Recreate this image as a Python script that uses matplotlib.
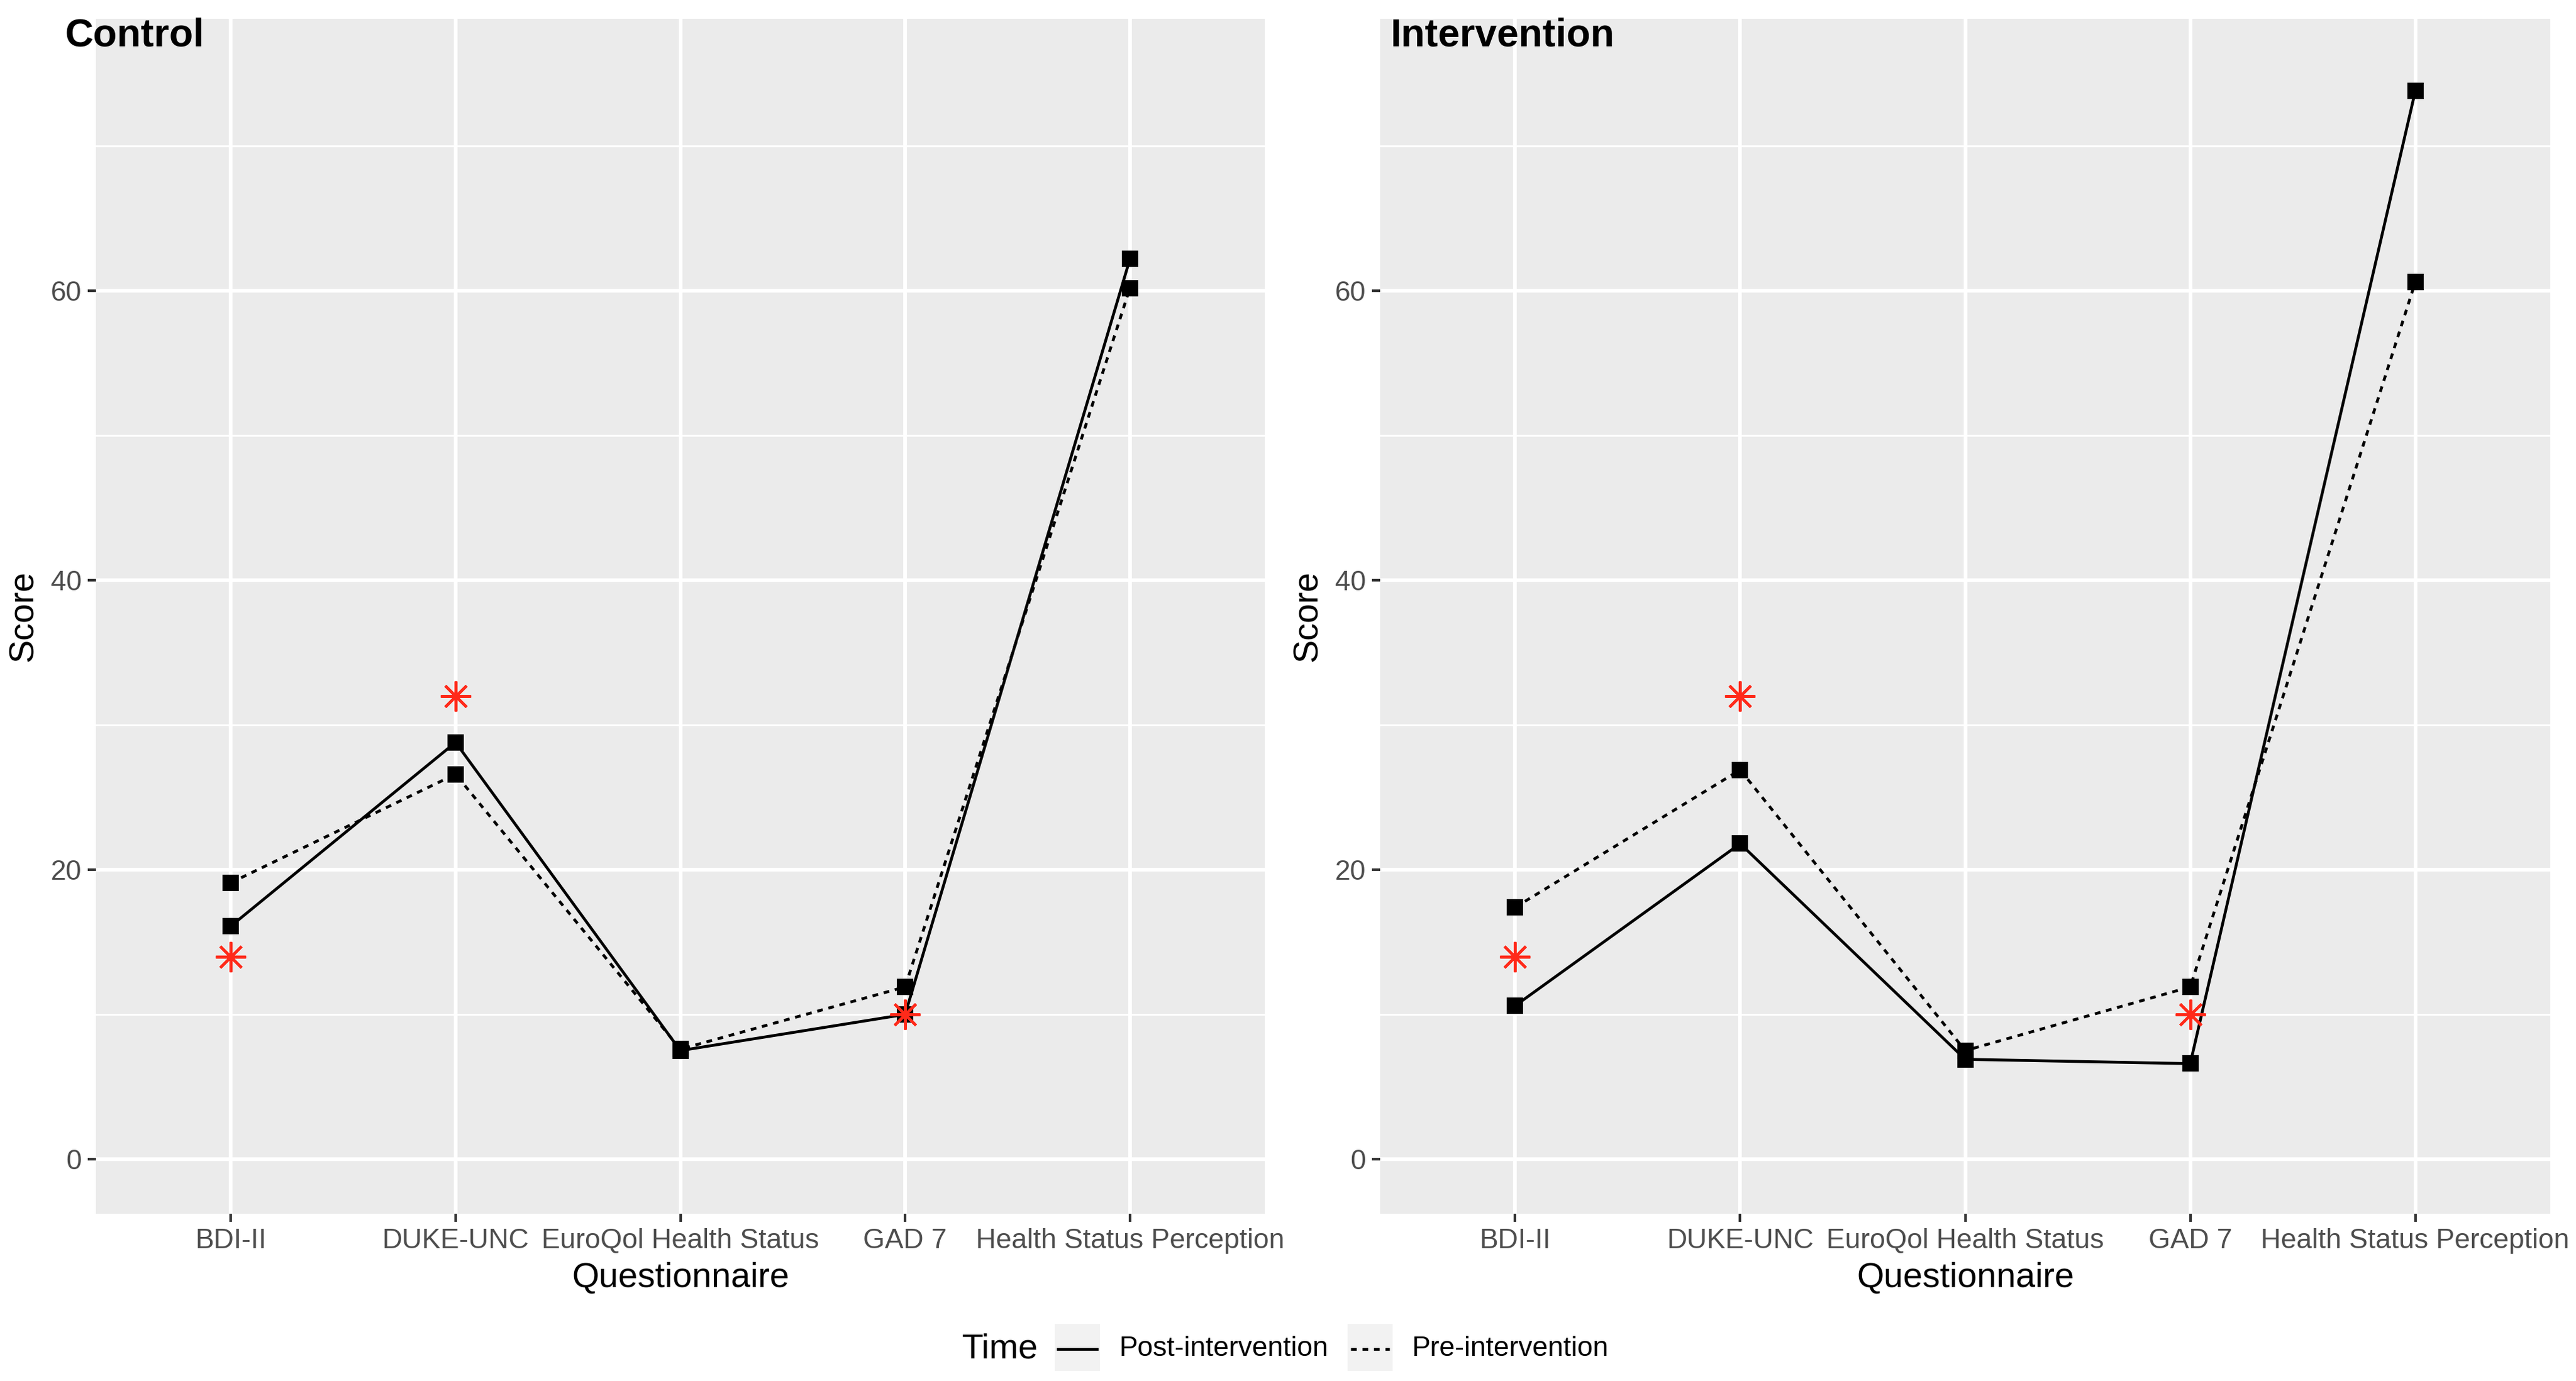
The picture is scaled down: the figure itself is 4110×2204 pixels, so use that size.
import numpy as np
import matplotlib.pyplot as plt
from matplotlib.lines import Line2D
from matplotlib.patches import Rectangle

plt.rcParams['font.family'] = ['Liberation Sans', 'DejaVu Sans']

# data
questionnaires = ['BDI-II', 'DUKE-UNC', 'EuroQol Health Status', 'GAD 7',
                  'Health Status Perception']
control_post = [16.1, 28.8, 7.5, 10.0, 62.2]
control_pre = [19.1, 26.6, 7.6, 11.9, 60.2]
interv_post = [10.6, 21.8, 6.9, 6.6, 73.8]
interv_pre = [17.4, 26.9, 7.5, 11.9, 60.6]
reference = [14, 32, np.nan, 10, np.nan]

panels = [('Control', control_post, control_pre),
          ('Intervention', interv_post, interv_pre)]

W, H = 4110, 2204
fig = plt.figure(figsize=(W / 300, H / 300), dpi=300)

# axes boxes in pixels: left, right, top, bottom
boxes = [(153, 2018, 30, 1937), (2202, 4069, 30, 1937)]
title_x = [103, 2219]

x = np.arange(len(questionnaires))
lw = 1.1
for (name, post, pre), (l, r, t, b), tx in zip(panels, boxes, title_x):
    ax = fig.add_axes([l / W, 1 - b / H, (r - l) / W, (b - t) / H])
    ax.set_facecolor('#EBEBEB')
    for s in ax.spines.values():
        s.set_visible(False)

    ax.plot(x, post, color='black', lw=lw, ls='-', marker='s', ms=5.3,
            zorder=3)
    ax.plot(x, pre, color='black', lw=lw, ls=(0, (2, 2)), marker='s',
            ms=5.3, zorder=3)
    ax.plot(x, reference, ls='none', marker=(8, 2, 0), ms=11.5,
            mec='#FF2A1A', mew=1.0, zorder=4)

    ax.set_xlim(-0.6, 4.6)
    ax.set_ylim(-3.77, 78.8)
    ax.set_xticks(x)
    ax.set_xticklabels(questionnaires)
    ax.set_yticks([0, 20, 40, 60])
    ax.set_yticks([10, 30, 50, 70], minor=True)
    ax.set_xticks([], minor=True)
    ax.grid(True, which='major', color='white', lw=1.4)
    ax.grid(True, which='minor', axis='y', color='white', lw=0.7)
    ax.set_axisbelow(True)
    ax.tick_params(which='major', length=3.1, width=1.0, color='#333333',
                   labelcolor='#4D4D4D', labelsize=10.7, pad=2.4)
    ax.tick_params(which='minor', length=0)
    ax.set_xlabel('Questionnaire', fontsize=13.4, labelpad=3)
    ax.set_ylabel('Score', fontsize=13.4, labelpad=4)

    fig.text(tx / W, 1 - 73 / H, name, fontsize=15, fontweight='bold',
             va='baseline', ha='left')

# legend drawn at the bottom, ggplot style
renderer = fig.canvas.get_renderer()
ly = 1 - 2153 / H
fig.text(1535 / W, ly, 'Time', fontsize=13.4, va='center', ha='left')
legend_items = [('Post-intervention', '-'), ('Pre-intervention', (0, (2, 2)))]
kx = 1683
for label, ls in legend_items:
    fig.patches.append(Rectangle((kx / W, 1 - 2188 / H), 72 / W, 75 / H,
                                 transform=fig.transFigure,
                                 facecolor='#F2F2F2', edgecolor='none'))
    fig.lines.append(Line2D([(kx + 5) / W, (kx + 67) / W], [ly, ly],
                            transform=fig.transFigure, color='black',
                            lw=lw, ls=ls))
    t = fig.text((kx + 102) / W, ly, label, fontsize=10.7, va='center',
                 ha='left')
    kx = t.get_window_extent(renderer).x1 + 31

fig.savefig('out.png', dpi=300, facecolor='white')
